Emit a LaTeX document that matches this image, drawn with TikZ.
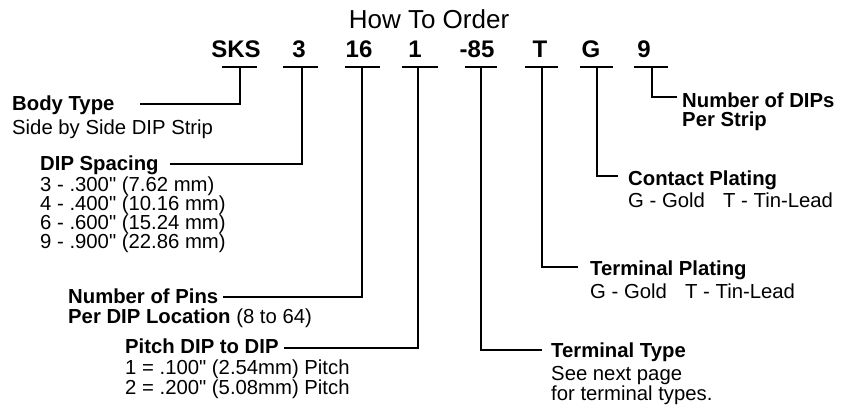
\documentclass[tikz,border=0pt]{standalone}
\usepackage{fontspec}
\newfontfamily\lib{Liberation Sans}
\begin{document}
\begin{tikzpicture}[x=1pt,y=-1pt,
  lbl/.style={anchor=base west,inner sep=0pt,font=\lib\fontsize{20.3}{24}\selectfont},
  blbl/.style={anchor=base west,inner sep=0pt,font=\lib\fontsize{20.3}{24}\selectfont\bfseries},
  code/.style={anchor=base,inner sep=0pt,font=\lib\fontsize{24}{28}\selectfont\bfseries},
  wire/.style={line width=1.7pt},
  uline/.style={line width=1.5pt}]
\useasboundingbox (0,0) rectangle (850,410);
\node[anchor=base,inner sep=0pt,font=\lib\fontsize{26}{30}\selectfont] (title) at (429,28) {How To Order};
% codes
\node[code] (cSKS) at (236,57) {SKS};
\node[code] (c3) at (299,57) {3};
\node[code] (c16) at (359,57) {16};
\node[code] (c1) at (415,57) {1};
\node[code] (c85) at (477,57) {-85};
\node[code] (cT) at (540,57) {T};
\node[code] (cG) at (591,57) {G};
\node[code] (c9) at (644,57) {9};
% underlines
\draw[uline] (222,67) -- (257,67);
\draw[uline] (283,67) -- (318,67);
\draw[uline] (345,67) -- (380,67);
\draw[uline] (402,67) -- (438,67);
\draw[uline] (465,67) -- (497,67);
\draw[uline] (525,67) -- (558,67);
\draw[uline] (580,67) -- (613,67);
\draw[uline] (634,67) -- (668,67);
% labels
\node[blbl] (body) at (12,110) {Body Type};
\node[lbl] (body2) at (12,134) {Side by Side DIP Strip};
\node[blbl] (dip) at (40,170) {DIP Spacing};
\node[lbl] (dip1) at (40,191) {3 - .300" (7.62 mm)};
\node[lbl] (dip2) at (40,210.3) {4 - .400" (10.16 mm)};
\node[lbl] (dip3) at (40,229.6) {6 - .600" (15.24 mm)};
\node[lbl] (dip4) at (40,248.9) {9 - .900" (22.86 mm)};
\node[blbl] (pins) at (68,303) {Number of Pins};
\node[lbl] (pins2) at (68,323) {\textbf{Per DIP Location} (8 to 64)};
\node[blbl] (pitch) at (125,353) {Pitch DIP to DIP};
\node[lbl] (pitch1) at (125,374) {1 = .100" (2.54mm) Pitch};
\node[lbl] (pitch2) at (125,394) {2 = .200" (5.08mm) Pitch};
\node[blbl] (ttype) at (551,357) {Terminal Type};
\node[lbl] (ttype1) at (551,380) {See next page};
\node[lbl] (ttype2) at (551,400) {for terminal types.};
\node[blbl] (tplat) at (590,275) {Terminal Plating};
\node[lbl] (tplat1) at (590,298) {G - Gold\hspace{0.9em}T - Tin-Lead};
\node[blbl] (cplat) at (628,185) {Contact Plating};
\node[lbl] (cplat1) at (628,207) {G - Gold\hspace{0.9em}T - Tin-Lead};
\node[blbl] (ndip) at (682,107) {Number of DIPs};
\node[blbl] (ndip2) at (682,126) {Per Strip};
% connector coordinates
\coordinate (aSKS) at (240,67); \coordinate (kSKS) at (240,104); \coordinate (eSKS) at (140,104);
\coordinate (a3) at (302,67);   \coordinate (k3) at (302,164);   \coordinate (e3) at (170,164);
\coordinate (a16) at (362,67);  \coordinate (k16) at (362,297);  \coordinate (e16) at (223,297);
\coordinate (a1) at (418,67);   \coordinate (k1) at (418,348);   \coordinate (e1) at (284,348);
\coordinate (a85) at (481,67);  \coordinate (k85) at (481,350);  \coordinate (e85) at (542,350);
\coordinate (aT) at (542,67);   \coordinate (kT) at (542,267);   \coordinate (eT) at (578,267);
\coordinate (aG) at (597,67);   \coordinate (kG) at (597,176);   \coordinate (eG) at (618,176);
\coordinate (a9) at (652,67);   \coordinate (k9) at (652,97);    \coordinate (e9) at (677,97);
\draw[wire] (aSKS) -- (kSKS) -- (eSKS);
\draw[wire] (a3) -- (k3) -- (e3);
\draw[wire] (a16) -- (k16) -- (e16);
\draw[wire] (a1) -- (k1) -- (e1);
\draw[wire] (a85) -- (k85) -- (e85);
\draw[wire] (aT) -- (kT) -- (eT);
\draw[wire] (aG) -- (kG) -- (eG);
\draw[wire] (a9) -- (k9) -- (e9);
\end{tikzpicture}
\end{document}
